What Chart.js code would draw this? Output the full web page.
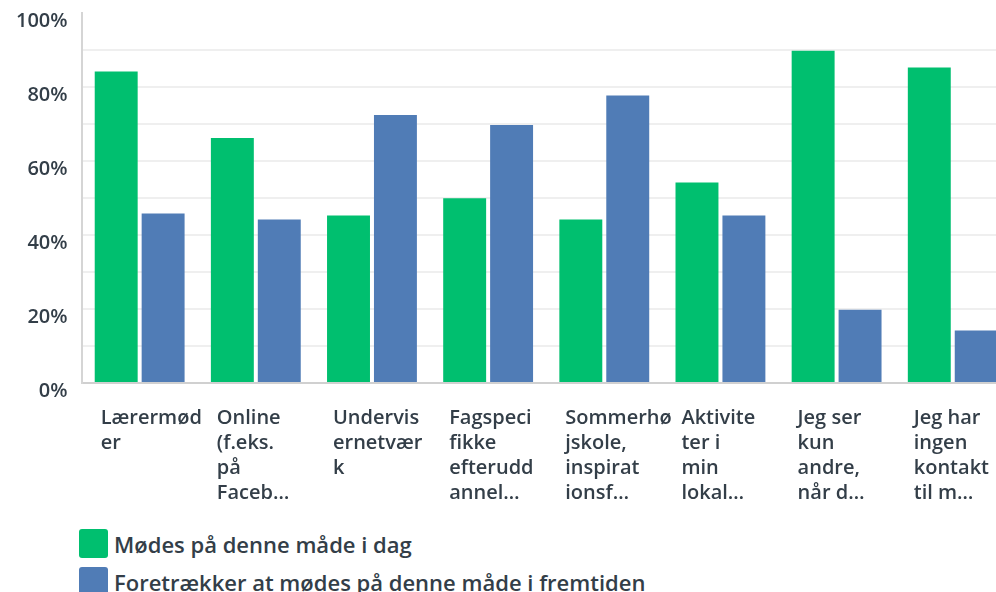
<!DOCTYPE html>
<html>
<head>
<meta charset="utf-8">
<script src="https://cdn.jsdelivr.net/npm/chart.js@4/dist/chart.umd.min.js"></script>
<style>
  body { margin: 0; background: #fff; overflow: hidden; width: 996px; height: 592px; }
  #wrap { position: absolute; left: 0; top: -13px; width: 1051px; height: 542px; }
  #legend { position: absolute; left: 79px; top: 529px; font-family: "Open Sans", sans-serif; font-weight: 600; font-size: 22px; color: #333e48; }
  .item { display: flex; align-items: center; height: 29px; margin-bottom: 9px; white-space: nowrap; }
  .box { width: 29px; height: 29px; border-radius: 3px; margin-right: 6px; }
</style>
</head>
<body>
<div id="wrap"><canvas id="chart"></canvas></div>
<div id="legend"></div>
<script>
// categories (already wrapped / truncated like the original)
var categories = [
  ["Lærermød", "er"],
  ["Online", "(f.eks.", "på", "Faceb…"],
  ["Undervis", "ernetvær", "k"],
  ["Fagspeci", "fikke", "efterudd", "annel…"],
  ["Sommerhø", "jskole,", "inspirat", "ionsf…"],
  ["Aktivite", "ter i", "min", "lokal…"],
  ["Jeg ser", "kun", "andre,", "når d…"],
  ["Jeg har", "ingen", "kontakt", "til m…"]
];
var seriesNames = ["Mødes på denne måde i dag", "Foretrækker at mødes på denne måde i fremtiden"];
var today = [84.2, 66.2, 45.3, 49.9, 44.2, 54.2, 89.8, 85.3];
var future = [45.8, 44.2, 72.4, 69.7, 77.7, 45.3, 19.8, 14.2];
var yTicks = [0, 20, 40, 60, 80, 100];

var green = "#00bf6f";
var blue = "#507cb6";
var textColor = "#333e48";

const ctx = document.getElementById("chart").getContext("2d");
const chart = new Chart(ctx, {
  type: "bar",
  data: {
    labels: categories,
    datasets: [
      { label: seriesNames[0], data: today, backgroundColor: green },
      { label: seriesNames[1], data: future, backgroundColor: blue }
    ]
  },
  options: {
    responsive: true,
    maintainAspectRatio: false,
    animation: false,
    layout: { padding: { left: 2, top: 0, right: 0, bottom: 0 } },
    datasets: { bar: { categoryPercentage: 0.808, barPercentage: 0.915 } },
    plugins: { legend: { display: false }, tooltip: { enabled: false } },
    scales: {
      x: {
        grid: { display: false, drawTicks: false },
        border: { display: true, color: "#d0d0d0", width: 2 },
        ticks: {
          autoSkip: false,
          maxRotation: 0,
          align: "start",
          labelOffset: -39,
          padding: 23,
          color: textColor,
          font: { family: "Open Sans", weight: "600", size: 20, lineHeight: 1.25 }
        }
      },
      y: {
        min: 0,
        max: 100,
        grid: {
          drawTicks: false,
          lineWidth: 2,
          color: function (c) {
            if (c.tick && c.tick.value === 100) return "rgba(0,0,0,0)";
            return "#efefef";
          }
        },
        border: { display: true, color: "#d5d5d5", width: 2 },
        ticks: {
          stepSize: 10,
          padding: 14,
          labelOffset: 8,
          color: textColor,
          font: { family: "Open Sans", weight: "600", size: 20 },
          callback: function (v) {
            return yTicks.indexOf(v) >= 0 ? v + "%" : "";
          }
        }
      }
    }
  }
});

// legend stacked like the original
var legend = document.getElementById("legend");
chart.data.datasets.forEach(function (ds) {
  var item = document.createElement("div");
  item.className = "item";
  item.innerHTML = '<span class="box" style="background:' + ds.backgroundColor + '"></span>' + ds.label;
  legend.appendChild(item);
});
</script>
</body>
</html>
